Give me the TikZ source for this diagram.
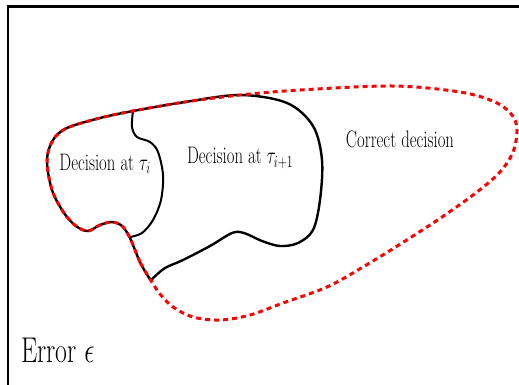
\documentclass[tikz,border=0pt]{standalone}
\usepackage{fix-cm}

\tikzset{
  boundary/.style={black,line width=2.4bp,line join=round},
  correct/.style={red,line width=3bp,dash pattern=on 5bp off 4bp},
  regionlabel/.style={font=\fontsize{24}{28}\selectfont,inner sep=0pt}
}
\newcommand{\narrow}[2][0.7]{\scalebox{#1}[1]{#2}}

\begin{document}
\begin{tikzpicture}[x=1bp,y=-1bp]
\useasboundingbox (0,0) rectangle (519,384);
\draw[line width=2.6bp,line join=miter] (8,390) -- (8,6.5) -- (525,6.5);

% outer border of the two decision regions
\draw[boundary] plot[smooth cycle,tension=0.55] coordinates {(150,279) (140,262) (130,238) (122,226) (112,222) (100,225) (88,231) (76,226) (64,213) (52,190) (47,160) (53,140) (67,128) (100,118) (133,111) (185,102) (240,95) (287,103) (313,126) (322,160) (320,200) (313,230) (298,243) (280,246) (262,241) (244,233) (232,233) (210,246) (183,260) (165,268) (153,278)};
\draw[boundary,line width=2bp] plot[smooth,tension=0.55] coordinates {(133,111) (132,127) (137,137) (150,142) (158,152) (163,175) (161,200) (153,220) (142,233) (130,237)};

% correct decision region
\draw[correct] plot[smooth cycle,tension=0.55] coordinates {(150,279) (140,262) (130,238) (122,226) (112,222) (100,225) (88,231) (76,226) (64,213) (52,190) (47,160) (53,140) (67,128) (100,118) (133,111) (185,102) (240,95) (300,90) (393,86) (460,92) (495,102) (512,115) (517,130) (513,152) (500,172) (477,192) (442,217) (402,243) (363,267) (327,287) (283,303) (250,315) (220,320) (193,317) (173,307) (160,294)};

\node[regionlabel] (dec_i) at (105,164) {\narrow{Decision at $\tau_i$}};
\node[regionlabel] (dec_ip) at (240,158) {\narrow{Decision at $\tau_{i+1}$}};
\node[regionlabel] (corr) at (400,139) {\narrow{Correct decision}};
\node[font=\fontsize{36}{40}\selectfont,inner sep=0pt,anchor=west] (err) at (21,350) {\narrow[0.72]{Error $\epsilon$}};
\end{tikzpicture}
\end{document}
